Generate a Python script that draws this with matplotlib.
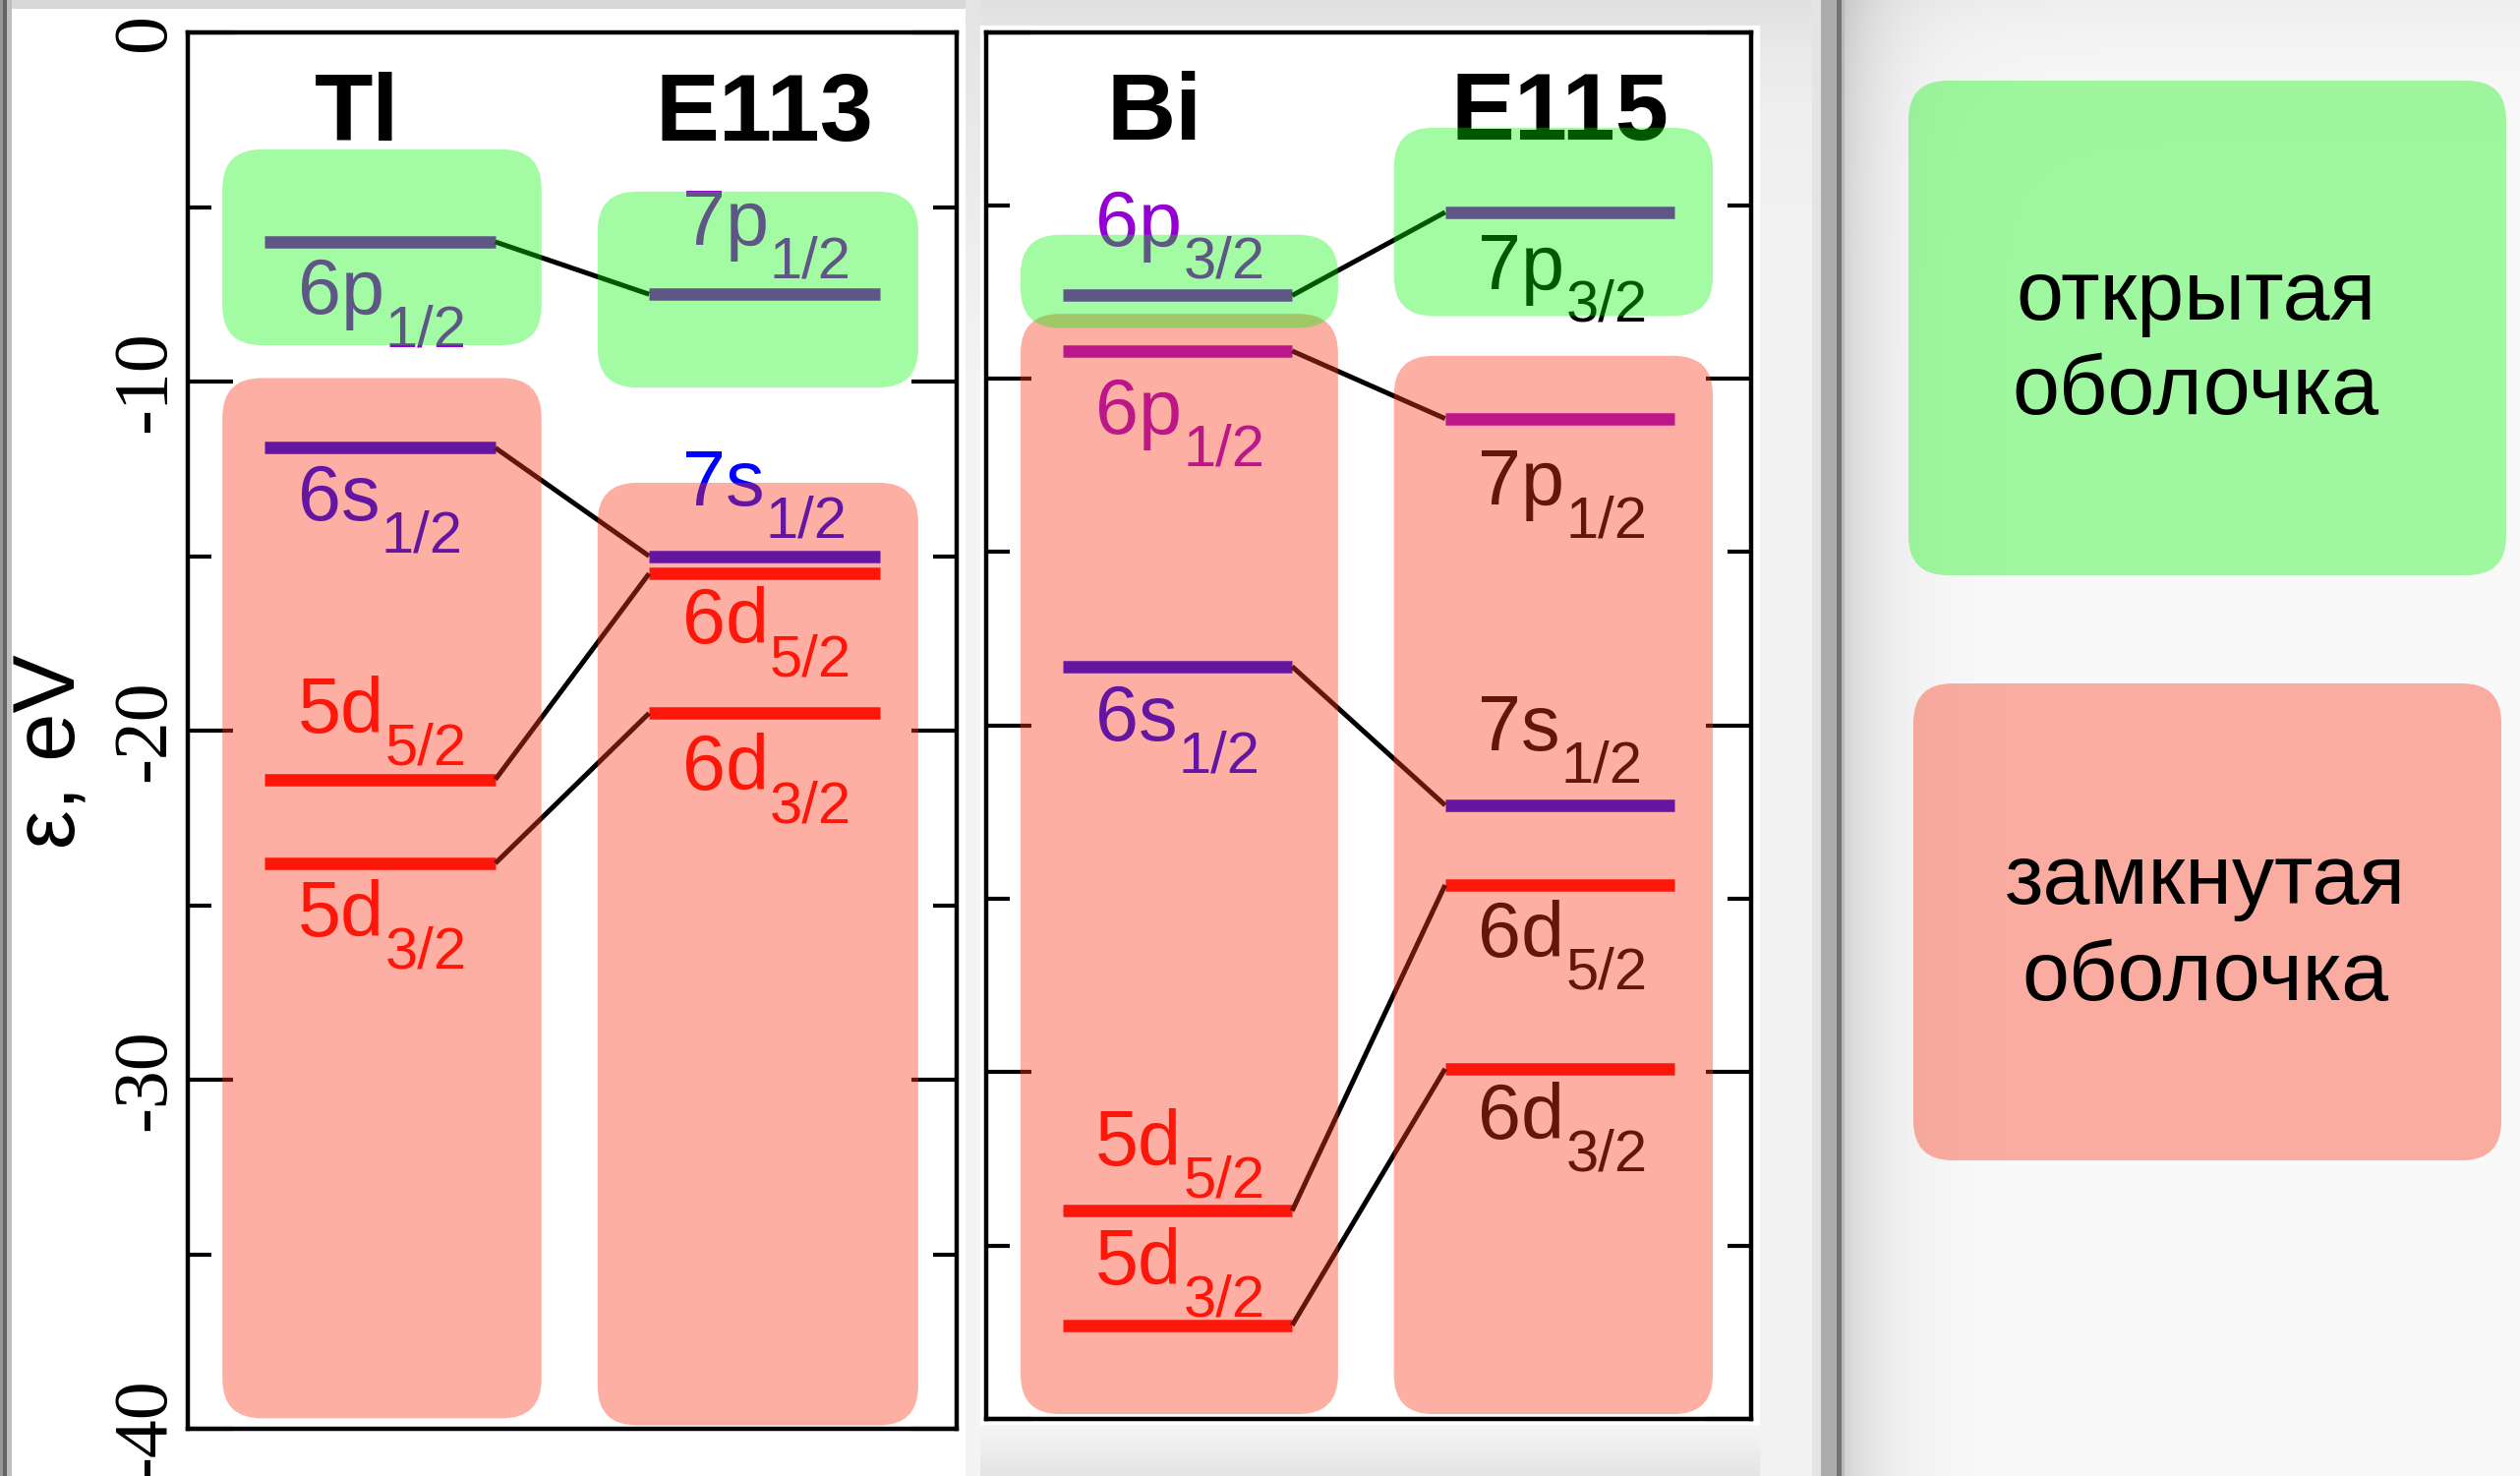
import numpy as np
import matplotlib
matplotlib.use("Agg")
import matplotlib.pyplot as plt
from matplotlib.patches import FancyBboxPatch
from matplotlib.ticker import MultipleLocator

plt.rcParams["font.family"] = ["Liberation Sans", "DejaVu Sans"]
plt.rcParams["axes.unicode_minus"] = False

# ---------------- orbital energies, eV ----------------
tl_orb = ["6p", "6s", "5d", "5d"]
tl_j = ["1/2", "1/2", "5/2", "3/2"]
tl_e = [-6.0, -11.9, -21.4, -23.8]

e113_orb = ["7p", "7s", "6d", "6d"]
e113_j = ["1/2", "1/2", "5/2", "3/2"]
e113_e = [-7.5, -15.0, -15.5, -19.5]

bi_orb = ["6p", "6p", "6s", "5d", "5d"]
bi_j = ["3/2", "1/2", "1/2", "5/2", "3/2"]
bi_e = [-7.6, -9.2, -18.3, -34.0, -37.3]

e115_orb = ["7p", "7p", "7s", "6d", "6d"]
e115_j = ["3/2", "1/2", "1/2", "5/2", "3/2"]
e115_e = [-5.2, -11.15, -22.3, -24.6, -29.9]

# open / closed shell bands (top, bottom) in eV
tl_open, tl_closed = (-3.35, -8.96), (-9.9, -39.7)
e113_open, e113_closed = (-4.56, -10.17), (-12.9, -39.9)
bi_open, bi_closed = (-5.85, -8.54), (-8.13, -39.86)
e115_open, e115_closed = (-2.76, -8.19), (-9.34, -39.86)

yticks = [0, -10, -20, -30, -40]
elements = [("Tl", "E113"), ("Bi", "E115")]
legend_open = ["открытая", "оболочка"]
legend_closed = ["замкнутая", "оболочка"]

# label baseline offsets from each level (eV); positive = above
tl_dy = [-2.06, -2.07, 1.35, -2.08]
e113_dy = [1.41, 1.46, -2.0, -2.2]
bi_dy = [1.44, -2.38, -2.12, 1.33, 1.19]
e115_dy = [-2.21, -2.49, 1.59, -2.07, -2.01]

SHELL_COLOR = {"p": "#9400d3", "s": "#0000ff", "d": "#ff0000"}
GREEN = (0.0, 244 / 255, 0.0)
GREEN_ALPHA = 0.36
RED = (252 / 255, 57 / 255, 27 / 255)
RED_ALPHA = 0.40

W, H = 2563, 1501
fig = plt.figure(figsize=(W / 100, H / 100), dpi=100)

# ---------------- slide background ----------------
yy = np.arange(H)[:, None].astype(float)
xx = np.arange(W)[None, :].astype(float)
bg = np.ones((H, W)) * 242.0
bg = bg - 18.0 * np.exp(-yy / 70.0)
# left white sheet
bg[9:, 12:982] = 255
bg[0:9, 12:982] = 216
# left frame strip
bg[:, 0:3] = 150
bg[:, 3:7] = 100
bg[:, 7:12] = 190
# gap between sheets
gap = 228 + 16 * np.clip(yy / 400.0, 0, 1)
bg[:, 982:997] = np.broadcast_to(gap, (H, 15))
# right white sheet
bg[26:1449, 997:1790] = 255
below = 246 - 18 * np.clip((yy - 1449) / 52.0, 0, 1)
bg[1449:, 997:1790] = np.broadcast_to(below[1449:], (H - 1449, 793))
# divider bar
bg[:, 1843:1852] = 228
bg[:, 1852:1868] = 172
bg[:, 1868:1873] = 115
bg[:, 1873:1876] = 185
# right area, shaded next to the bar
shade = 250 - 38 * np.exp(-(xx - 1876) / 45.0)
right = np.broadcast_to(shade[:, 1876:], (H, W - 1876)).copy()
right = right - 12.0 * np.exp(-yy / 60.0)
bg[:, 1876:] = right
bg = np.clip(bg, 0, 255).astype(np.uint8)

bgax = fig.add_axes([0, 0, 1, 1], zorder=-10)
bgax.imshow(np.dstack([bg] * 3), extent=(0, W, H, 0), aspect="auto",
            interpolation="nearest")
bgax.set_xlim(0, W)
bgax.set_ylim(H, 0)
bgax.axis("off")

# legend cards
for (x0, y0, x1, y1), col, al, lines, bases, xc in [
    ((1941, 82, 2549, 585), GREEN, GREEN_ALPHA, legend_open, (325, 421), 2233),
    ((1946, 695, 2544, 1180), RED, RED_ALPHA, legend_closed, (919, 1017), 2243),
]:
    bgax.add_patch(FancyBboxPatch((x0, y0), x1 - x0, y1 - y0,
                                  boxstyle="round,pad=0,rounding_size=40",
                                  facecolor=col, alpha=al, edgecolor="none",
                                  zorder=2))
    for txt, yb in zip(lines, bases):
        bgax.text(xc, yb, txt, ha="center", va="baseline",
                  fontsize=62, color="black", zorder=3)

# ---------------- level diagrams ----------------
ax1 = fig.add_axes([191 / W, (H - 1453) / H, 782 / W, 1420 / H])
ax2 = fig.add_axes([1003 / W, (H - 1443) / H, 778 / W, 1410.5 / H])

LEVEL_LW = 9.0
pending = []


def column(ax, x0, x1, energies, orbs, js, dys, label_color=None):
    for e, o, j, dy in zip(energies, orbs, js, dys):
        col = SHELL_COLOR[o[-1]]
        ax.plot([x0, x1], [e, e], color=col, lw=LEVEL_LW,
                solid_capstyle="butt", zorder=2)
        tc = label_color or col
        t = ax.text(x0 + 0.43, e + dy, o, color=tc, fontsize=57,
                    ha="left", va="baseline", zorder=3)
        pending.append((ax, t, j, tc))


def band(ax, xa, xb, top_bottom, col, al):
    top, bot = top_bottom
    bb = ax.get_position()
    px_x = bb.width * W / 10.0
    px_y = bb.height * H / 40.0
    r = 40.0 / px_x
    ax.add_patch(FancyBboxPatch((xa, bot), xb - xa, top - bot,
                                boxstyle=f"round,pad=0,rounding_size={r}",
                                mutation_aspect=px_x / px_y,
                                facecolor=col, alpha=al, edgecolor="none",
                                zorder=5))


panels = [
    (ax1, (tl_e, tl_orb, tl_j, tl_dy, None),
     (e113_e, e113_orb, e113_j, e113_dy, None),
     (tl_open, tl_closed), (e113_open, e113_closed), elements[0]),
    (ax2, (bi_e, bi_orb, bi_j, bi_dy, None),
     (e115_e, e115_orb, e115_j, e115_dy, "black"),
     (bi_open, bi_closed), (e115_open, e115_closed), elements[1]),
]

for ax, left, right, lbands, rbands, names in panels:
    ax.set_xlim(0, 10)
    ax.set_ylim(-40, 0)
    column(ax, 1, 4, *left)
    column(ax, 6, 9, *right)
    for el, er in zip(left[0], right[0]):
        ax.plot([4, 6], [el, er], color="black", lw=3.6, zorder=2,
                solid_capstyle="butt")
    band(ax, 0.45, 4.6, lbands[1], RED, RED_ALPHA)
    band(ax, 5.33, 9.5, rbands[1], RED, RED_ALPHA)
    band(ax, 0.45, 4.6, lbands[0], GREEN, GREEN_ALPHA)
    band(ax, 5.33, 9.5, rbands[0], GREEN, GREEN_ALPHA)
    ax.text(2.2, -3.1, names[0], ha="center", va="baseline", fontsize=70,
            fontweight="bold", zorder=3)
    ax.text(7.5, -3.1, names[1], ha="center", va="baseline", fontsize=70,
            fontweight="bold", zorder=3)

    ax.set_xticks([])
    ax.set_yticks(yticks, labels=[str(v) for v in yticks],
                  fontfamily="Liberation Serif", fontsize=56, rotation=90,
                  va="center")
    ax.yaxis.set_minor_locator(MultipleLocator(5))
    ax.tick_params(axis="y", which="major", direction="in", length=33,
                   width=3, left=True, right=True, pad=5)
    ax.tick_params(axis="y", which="minor", direction="in", length=17,
                   width=3, left=True, right=True)
    for s in ax.spines.values():
        s.set_linewidth(3.2)
    ax.set_facecolor("white")

ax2.tick_params(axis="y", which="both", labelleft=False)

fig.text(54 / W, 1 - 764 / H, "ε, eV", rotation=90, ha="center",
         va="center", fontsize=64)

# subscripts j = 1/2, 3/2, 5/2 after each orbital label
renderer = fig.canvas.get_renderer()
for ax, t, j, c in pending:
    bb = t.get_window_extent(renderer)
    xb, yb = ax.transData.transform(t.get_position())
    xs, ys = ax.transData.inverted().transform((bb.x1 + 1, yb - 33))
    ax.text(xs, ys, j, color=c, fontsize=43, ha="left", va="baseline",
            zorder=3)

fig.savefig("out.png", dpi=100)
